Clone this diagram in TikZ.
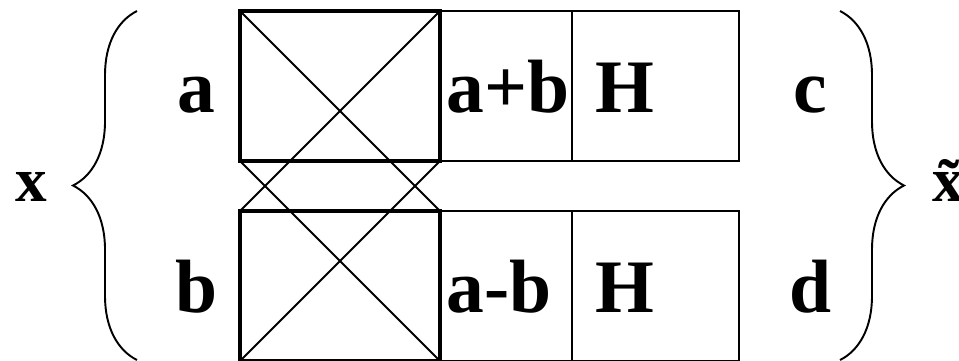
\documentclass[tikz,border=0pt]{standalone}
\usepackage{fontspec}
\setmainfont{Liberation Serif}
\usetikzlibrary{positioning, decorations.pathreplacing}

\begin{document}
\begin{tikzpicture}[
        % One unit is one pixel of the 959x360 frame
        x=0.02cm, y=-0.02cm,
        % Define styles for the boxes and labels
        base_box/.style={draw, line width=1.1pt, minimum height=3cm, inner sep=0pt, outer sep=0pt},
        mix_box/.style={base_box, line width=2.3pt, minimum width=4cm},
        sum_box/.style={base_box, minimum width=2.64cm},
        h_box/.style={base_box, minimum width=3.34cm},
        lbl/.style={font=\fontsize{43}{48}\selectfont\bfseries, inner sep=0pt, anchor=base},
        side_lbl/.style={lbl, font=\fontsize{36}{40}\selectfont\bfseries},
        cross/.style={line width=1.1pt},
        brace_line/.style={decorate, decoration={brace, amplitude=1.28cm}, line width=1.1pt}
    ]
    \useasboundingbox (0,0) rectangle (959,360);

    % Upper row: a -> a+b -> H
    \node (mixA) [mix_box] at (340,86) {};
    \node (sumA) [sum_box, right=0pt of mixA] {};
    \node (hA) [h_box, right=0pt of sumA] {};

    % Lower row: b -> a-b -> H
    \node (mixB) [mix_box] at (340,286) {};
    \node (sumB) [sum_box, right=0pt of mixB] {};
    \node (hB) [h_box, right=0pt of sumB] {};

    % Crossing lines of the butterfly
    \draw [cross] (mixA.north west) -- (mixB.north east);
    \draw [cross] (mixA.north east) -- (mixB.north west);
    \draw [cross] (mixA.south west) -- (mixB.south east);
    \draw [cross] (mixA.south east) -- (mixB.south west);

    % Labels
    \node (la) [lbl] at (196,112) {a};
    \node (lb) [lbl] at (197,312) {b};
    \node (lsumA) [lbl, anchor=base west] at (446,112) {a+b};
    \node (lsumB) [lbl, anchor=base west] at (446,312) {a-b};
    \node (lhA) [lbl, anchor=base west] at (595,112) {H};
    \node (lhB) [lbl, anchor=base west] at (595,312) {H};
    \node (lc) [lbl] at (810,112) {c};
    \node (ld) [lbl] at (810,312) {d};
    \node (lx) [side_lbl] at (31,201) {x};
    \node (lxt) [side_lbl, anchor=base west] at (932,201) {\~{x}};

    % Braces round the inputs and the outputs
    \coordinate (lbrace_bot) at (137,360);
    \coordinate (lbrace_top) at (137,11);
    \coordinate (rbrace_top) at (840,11);
    \coordinate (rbrace_bot) at (840,360);
    \draw [brace_line] (lbrace_bot) -- (lbrace_top);
    \draw [brace_line] (rbrace_top) -- (rbrace_bot);

\end{tikzpicture}
\end{document}
